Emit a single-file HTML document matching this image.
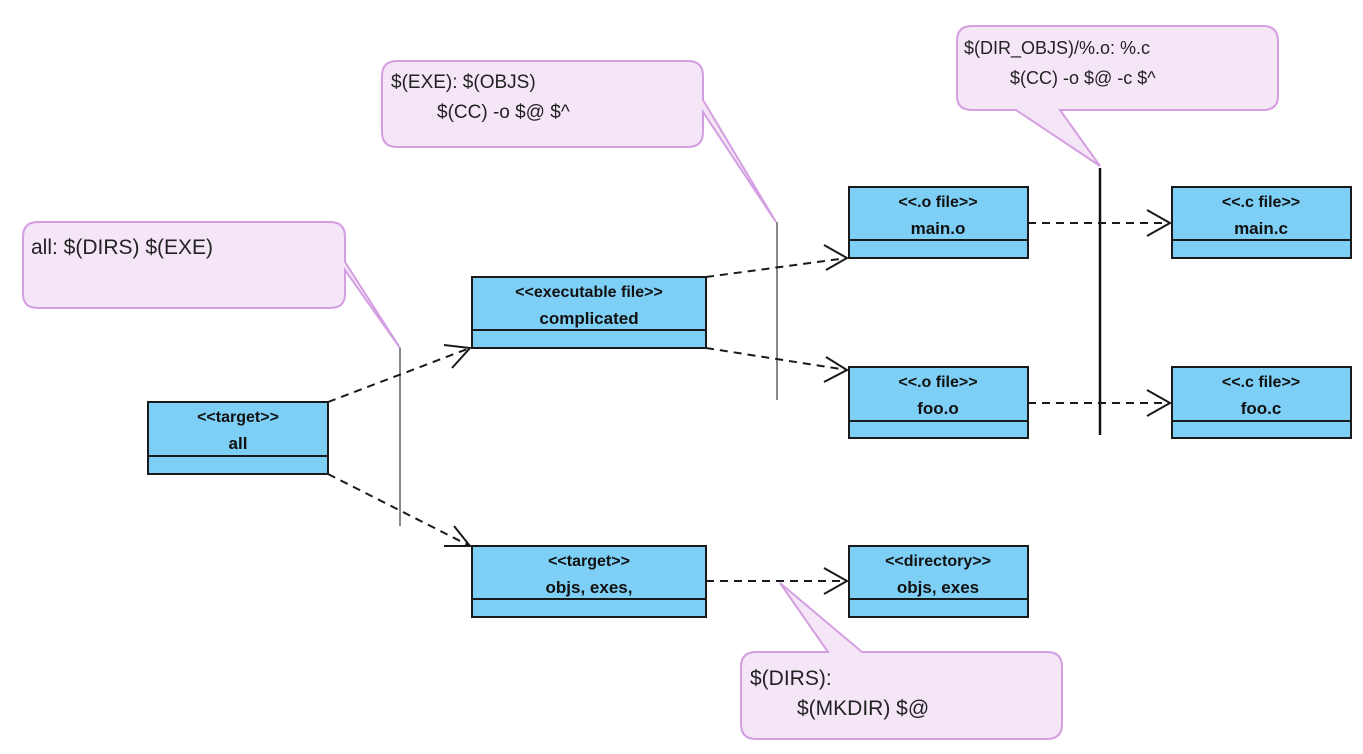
<!DOCTYPE html>
<html><head><meta charset="utf-8"><style>
html,body{margin:0;padding:0;background:#fff;}
svg{display:block;}
.st{font:bold 16px "Liberation Sans",sans-serif;fill:#111;}
.nm{font:bold 17px "Liberation Sans",sans-serif;fill:#111;}
.nt{font:19px "Liberation Sans",sans-serif;fill:#222;}
.box{fill:#7dcff5;stroke:#1a1a1a;stroke-width:2;}
.note{fill:#f4e6f7;stroke:#d49fe2;stroke-width:2;}
.dash{stroke:#1a1a1a;stroke-width:2;stroke-dasharray:8,6;fill:none;}
.ah{stroke:#1a1a1a;stroke-width:2;fill:none;}
</style></head><body>
<svg width="1363" height="754" viewBox="0 0 1363 754" xmlns="http://www.w3.org/2000/svg">
<path class="note" d="M38,222 H330 Q345,222 345,237 V262 L400,348 L345,270 V294 Q345,308 330,308 H38 Q23,308 23,294 V237 Q23,222 38,222 Z"/>
<text class="nt" x="31" y="254" style="font-size:21px">all: $(DIRS) $(EXE)</text>
<line x1="400" y1="348" x2="400" y2="526" stroke="#888" stroke-width="2"/>

<path class="note" d="M397,61 H688 Q703,61 703,76 V100 L776,222 L703,112 V132 Q703,147 688,147 H397 Q382,147 382,132 V76 Q382,61 397,61 Z"/>
<text class="nt" x="391" y="88">$(EXE): $(OBJS)</text>
<text class="nt" x="437" y="118">$(CC) -o $@ $^</text>
<line x1="777" y1="222" x2="777" y2="400" stroke="#888" stroke-width="2"/>

<path class="note" d="M972,26 H1263 Q1278,26 1278,41 V96 Q1278,110 1263,110 H1060 L1100,166 L1016,110 H972 Q957,110 957,96 V41 Q957,26 972,26 Z"/>
<text class="nt" x="964" y="54" style="font-size:18px">$(DIR_OBJS)/%.o: %.c</text>
<text class="nt" x="1010" y="84" style="font-size:18px">$(CC) -o $@ -c $^</text>
<line x1="1100" y1="168" x2="1100" y2="435" stroke="#111" stroke-width="2.5"/>

<path class="note" d="M756,652 H828 L780,583 L862,652 H1047 Q1062,652 1062,667 V724 Q1062,739 1047,739 H756 Q741,739 741,724 V667 Q741,652 756,652 Z"/>
<text class="nt" x="750" y="685" style="font-size:21px">$(DIRS):</text>
<text class="nt" x="797" y="715" style="font-size:21px">$(MKDIR) $@</text>

<path class="dash" d="M328,402 L470,348"/><path class="ah" d="M444,345 L470,348 L452,368"/>
<path class="dash" d="M328,474 L470,546"/><path class="ah" d="M454,526 L470,546 L444,546"/>
<path class="dash" d="M706,277 L847,258"/><path class="ah" d="M824,245 L847,258 L826,270"/>
<path class="dash" d="M706,348 L847,370"/><path class="ah" d="M826,357 L847,370 L824,382"/>
<path class="dash" d="M1028,223 L1170,223"/><path class="ah" d="M1147,210 L1170,223 L1147,236"/>
<path class="dash" d="M1028,403 L1170,403"/><path class="ah" d="M1147,390 L1170,403 L1147,416"/>
<path class="dash" d="M706,581 L847,581"/><path class="ah" d="M824,568 L847,581 L824,594"/>

<rect class="box" x="148" y="402" width="180" height="72"/><line x1="148" y1="456" x2="328" y2="456" stroke="#1a1a1a" stroke-width="2"/>
<text class="st" x="238" y="422" text-anchor="middle">&lt;&lt;target&gt;&gt;</text><text class="nm" x="238" y="449" text-anchor="middle">all</text>

<rect class="box" x="472" y="277" width="234" height="71"/><line x1="472" y1="330" x2="706" y2="330" stroke="#1a1a1a" stroke-width="2"/>
<text class="st" x="589" y="297" text-anchor="middle">&lt;&lt;executable file&gt;&gt;</text><text class="nm" x="589" y="324" text-anchor="middle">complicated</text>

<rect class="box" x="472" y="546" width="234" height="71"/><line x1="472" y1="599" x2="706" y2="599" stroke="#1a1a1a" stroke-width="2"/>
<text class="st" x="589" y="566" text-anchor="middle">&lt;&lt;target&gt;&gt;</text><text class="nm" x="589" y="593" text-anchor="middle">objs, exes,</text>

<rect class="box" x="849" y="187" width="179" height="71"/><line x1="849" y1="240" x2="1028" y2="240" stroke="#1a1a1a" stroke-width="2"/>
<text class="st" x="938" y="207" text-anchor="middle">&lt;&lt;.o file&gt;&gt;</text><text class="nm" x="938" y="234" text-anchor="middle">main.o</text>

<rect class="box" x="849" y="367" width="179" height="71"/><line x1="849" y1="421" x2="1028" y2="421" stroke="#1a1a1a" stroke-width="2"/>
<text class="st" x="938" y="387" text-anchor="middle">&lt;&lt;.o file&gt;&gt;</text><text class="nm" x="938" y="414" text-anchor="middle">foo.o</text>

<rect class="box" x="1172" y="187" width="179" height="71"/><line x1="1172" y1="240" x2="1351" y2="240" stroke="#1a1a1a" stroke-width="2"/>
<text class="st" x="1261" y="207" text-anchor="middle">&lt;&lt;.c file&gt;&gt;</text><text class="nm" x="1261" y="234" text-anchor="middle">main.c</text>

<rect class="box" x="1172" y="367" width="179" height="71"/><line x1="1172" y1="421" x2="1351" y2="421" stroke="#1a1a1a" stroke-width="2"/>
<text class="st" x="1261" y="387" text-anchor="middle">&lt;&lt;.c file&gt;&gt;</text><text class="nm" x="1261" y="414" text-anchor="middle">foo.c</text>

<rect class="box" x="849" y="546" width="179" height="71"/><line x1="849" y1="599" x2="1028" y2="599" stroke="#1a1a1a" stroke-width="2"/>
<text class="st" x="938" y="566" text-anchor="middle">&lt;&lt;directory&gt;&gt;</text><text class="nm" x="938" y="593" text-anchor="middle">objs, exes</text>
</svg>
</body></html>
